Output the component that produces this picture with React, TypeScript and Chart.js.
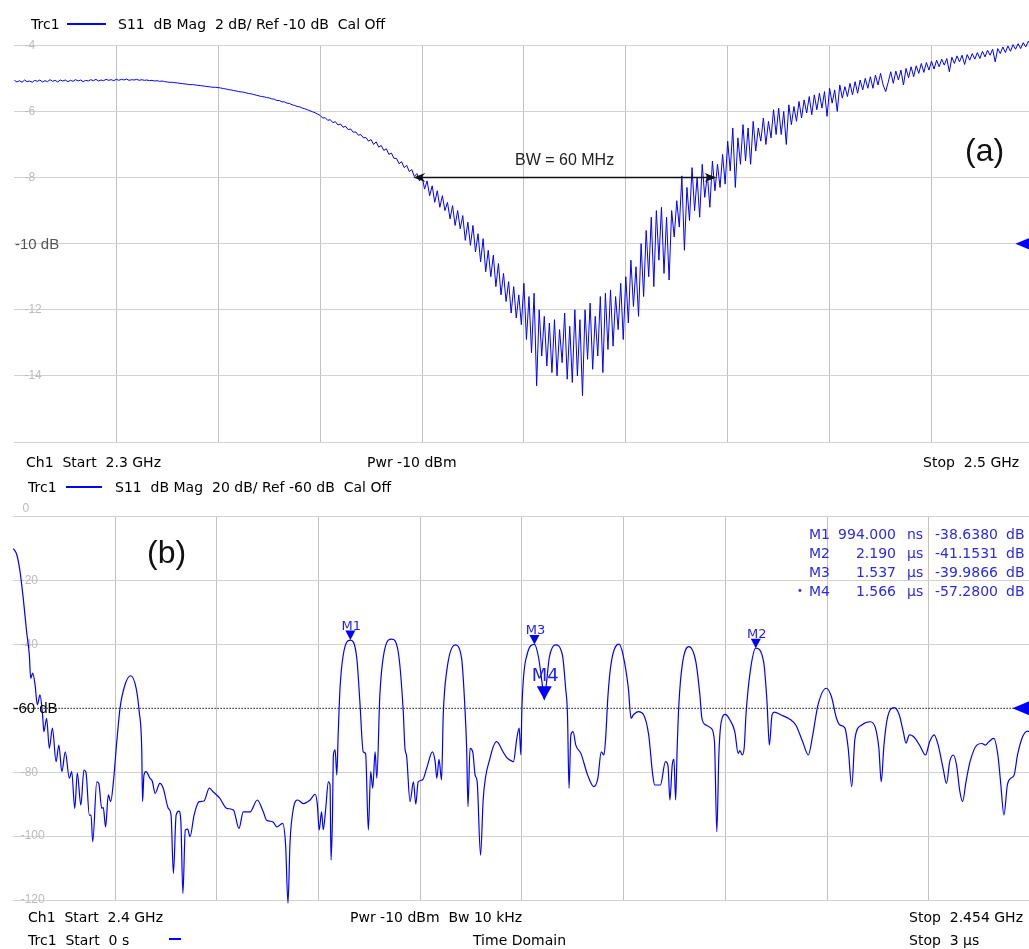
import React, { useEffect, useRef } from "react";
import { Chart, registerables } from "chart.js";
Chart.register(...registerables);

const DV = '"DejaVu Sans", Verdana, sans-serif';
const AR = '"Liberation Sans", Arial, sans-serif';

// ---------- panel (a): S11 magnitude sweep 2.3 - 2.5 GHz ----------
const topStartGHz = 2.3;
const topStepGHz = 0.0005;
const topS11dB = [
  -5.06,-5.11,-5.07,-5.12,-5.05,-5.10,-5.08,-5.12,-5.06,-5.09,-5.05,-5.11,-5.07,-5.10,-5.04,-5.09,-5.06,-5.11,-5.05,-5.08,
  -5.05,-5.10,-5.06,-5.09,-5.04,-5.08,-5.05,-5.10,-5.06,-5.08,-5.04,-5.07,-5.03,-5.08,-5.05,-5.07,-5.03,-5.06,-5.04,-5.07,
  -5.03,-5.06,-5.03,-5.05,-5.02,-5.06,-5.04,-5.05,-5.03,-5.06,-5.04,-5.06,-5.05,-5.07,-5.06,-5.08,-5.07,-5.09,-5.08,-5.10,
  -5.11,-5.12,-5.12,-5.13,-5.14,-5.15,-5.16,-5.17,-5.18,-5.19,-5.19,-5.20,-5.21,-5.22,-5.23,-5.24,-5.25,-5.26,-5.27,-5.27,
  -5.28,-5.29,-5.31,-5.32,-5.34,-5.35,-5.37,-5.38,-5.40,-5.41,-5.42,-5.44,-5.46,-5.47,-5.49,-5.51,-5.53,-5.55,-5.56,-5.58,
  -5.59,-5.62,-5.63,-5.67,-5.67,-5.71,-5.71,-5.75,-5.76,-5.80,-5.82,-5.85,-5.86,-5.90,-5.92,-5.95,-5.98,-6.01,-6.04,-6.08,
  -6.12,-6.20,-6.19,-6.27,-6.25,-6.34,-6.31,-6.41,-6.38,-6.48,-6.45,-6.55,-6.53,-6.63,-6.62,-6.72,-6.70,-6.80,-6.79,-6.90,
  -6.85,-7.00,-6.92,-7.08,-7.03,-7.18,-7.13,-7.30,-7.26,-7.42,-7.42,-7.58,-7.52,-7.70,-7.63,-7.82,-7.76,-7.97,-7.88,-8.10,
  -7.95,-8.35,-8.10,-8.55,-8.25,-8.75,-8.40,-8.90,-8.55,-9.00,-8.75,-9.25,-8.85,-9.45,-9.00,-9.55,-9.15,-9.90,-9.35,-10.05,
  -9.45,-10.25,-9.70,-10.55,-9.85,-10.85,-10.20,-11.00,-10.35,-11.30,-10.60,-11.55,-10.90,-11.75,-11.15,-12.10,-11.30,-12.25,-11.55,-12.45,
  -11.20,-12.90,-11.60,-13.30,-11.50,-14.30,-12.00,-13.40,-12.20,-13.70,-12.40,-13.90,-12.30,-14.00,-12.60,-13.60,-12.10,-14.10,-12.50,-14.20,
  -12.00,-14.00,-12.30,-14.60,-12.00,-13.50,-11.80,-13.80,-12.20,-13.40,-11.60,-13.90,-11.50,-13.20,-11.40,-13.10,-11.60,-12.60,-11.20,-12.90,
  -11.00,-12.40,-10.50,-11.90,-10.70,-12.20,-10.00,-11.60,-9.60,-11.00,-9.20,-11.30,-9.00,-10.50,-8.90,-10.90,-9.20,-11.10,-9.00,-9.80,
  -8.70,-9.50,-7.95,-10.20,-8.30,-9.30,-7.70,-9.00,-8.00,-9.20,-7.60,-8.60,-7.90,-8.90,-7.50,-8.40,-7.60,-8.30,-7.30,-8.20,
  -6.90,-7.80,-6.50,-8.30,-6.80,-7.60,-6.40,-7.50,-6.50,-7.60,-6.30,-7.20,-6.50,-6.90,-6.20,-7.00,-6.30,-6.80,-5.95,-6.70,
  -5.90,-6.70,-6.00,-7.00,-5.80,-6.40,-5.85,-6.30,-5.70,-6.20,-5.65,-6.05,-5.55,-6.10,-5.50,-5.95,-5.45,-5.90,-5.40,-6.15,
  -5.30,-5.75,-5.35,-6.00,-5.20,-5.60,-5.25,-5.55,-5.15,-5.50,-5.10,-5.45,-5.05,-5.35,-5.00,-5.30,-4.95,-5.30,-4.90,-5.20,
  -4.85,-5.20,-5.40,-5.12,-4.80,-5.15,-4.78,-5.05,-4.75,-5.20,-4.70,-4.98,-4.65,-4.95,-4.62,-4.85,-4.55,-4.82,-4.52,-4.75,
  -4.48,-4.72,-4.45,-4.65,-4.42,-4.60,-4.40,-4.80,-4.36,-4.55,-4.32,-4.50,-4.30,-4.58,-4.28,-4.45,-4.25,-4.42,-4.22,-4.40,
  -4.18,-4.35,-4.15,-4.30,-4.12,-4.50,-4.10,-4.25,-4.05,-4.22,-4.02,-4.18,-3.98,-4.12,-3.95,-4.10,-3.92,-4.05,-3.88,-4.00,
  -3.85,
];
const topXGridGHz = [2.30, 2.32, 2.34, 2.36, 2.38, 2.40, 2.42, 2.44, 2.46, 2.48, 2.50];
const topYTicksDb = [-4, -6, -8, -10, -12, -14, -16];
const topRefDb = -10;
const bwStartGHz = 2.3783;
const bwStopGHz = 2.4378;
const bwLevelDb = -8;

// ---------- panel (b): time domain 0 - 3 us ----------
const botTimeUs = [
  0.000,0.010,0.0195,0.029,0.039,0.047,0.051,0.057,0.064,0.0705,
  0.0785,0.086,0.090,0.098,0.106,0.115,0.126,0.134,0.143,0.153,
  0.165,0.172,0.181,0.1885,0.199,0.208,0.214,0.224,0.229,0.234,
  0.246,0.252,0.2605,0.265,0.272,0.280,0.287,0.295,0.305,0.3145,
  0.329,0.346,0.362,0.371,0.3785,0.381,0.385,0.391,0.403,0.410,
  0.418,0.432,0.442,0.457,0.465,0.472,0.480,0.4885,0.494,0.500,
  0.507,0.514,0.521,0.533,0.548,0.562,0.578,0.590,0.609,0.629,
  0.649,0.6655,0.678,0.698,0.7195,0.737,0.747,0.765,0.777,0.794,
  0.803,0.810,0.816,0.826,0.839,0.855,0.875,0.890,0.8965,0.902,
  0.909,0.914,0.921,0.929,0.934,0.937,0.941,0.944,0.949,0.954,
  0.958,0.9635,0.973,0.994,1.013,1.022,1.032,1.039,1.047,1.054,
  1.060,1.067,1.072,1.081,1.096,1.116,1.135,1.150,1.155,1.160,
  1.170,1.180,1.187,1.194,1.207,1.219,1.236,1.244,1.249,1.2555,
  1.263,1.268,1.278,1.303,1.322,1.332,1.337,1.341,1.347,1.355,
  1.362,1.368,1.378,1.386,1.406,1.4255,1.444,1.456,1.470,1.475,
  1.485,1.492,1.497,1.500,1.515,1.537,1.549,1.5595,1.566,1.5725,
  1.581,1.599,1.6195,1.629,1.6345,1.639,1.6445,1.651,1.659,1.674,
  1.694,1.712,1.724,1.734,1.742,1.747,1.754,1.764,1.7865,1.7985,
  1.814,1.822,1.829,1.844,1.859,1.874,1.886,1.892,1.9085,1.9235,
  1.931,1.9365,1.9435,1.9485,1.9535,1.958,1.963,1.973,1.993,2.013,
  2.025,2.031,2.043,2.058,2.068,2.075,2.081,2.088,2.100,2.113,
  2.128,2.138,2.143,2.150,2.156,2.161,2.1735,2.190,2.213,2.223,
  2.230,2.238,2.245,2.263,2.293,2.308,2.328,2.345,2.358,2.3735,
  2.398,2.413,2.428,2.438,2.453,2.4625,2.473,2.4825,2.5025,2.528,
  2.543,2.553,2.560,2.568,2.578,2.598,2.613,2.625,2.633,2.643,
  2.655,2.673,2.6905,2.703,2.716,2.728,2.7425,2.7525,2.762,2.7725,
  2.782,2.792,2.800,2.810,2.822,2.842,2.857,2.867,2.877,2.892,
  2.904,2.912,2.922,2.932,2.942,2.952,2.962,2.977,2.992,3.000,
];
const botS11dB = [
  -10,-11.9,-17.1,-25.5,-36,-43.3,-50.6,-49,-52.7,-58.9,
  -55.8,-62,-67.3,-63.1,-72.5,-66.2,-76.7,-71.5,-79.8,-73.6,
  -81.9,-79.8,-91.3,-80.3,-90.3,-79.3,-80,-93.4,-93.4,-101.8,
  -83,-83.5,-91.3,-91,-97.1,-87.1,-89.2,-83,-70.4,-60,
  -52.7,-49.8,-53.7,-61,-72.5,-89.2,-81,-79.8,-81.9,-82.9,
  -86.6,-83.5,-85,-91.3,-93.4,-111.7,-93.4,-92.2,-95.5,-118,
  -98.1,-97.8,-100.2,-93.4,-89.2,-89,-85,-86.2,-88.2,-91.3,
  -91.8,-97.6,-92.4,-92.4,-88.7,-92.4,-95,-95.5,-97.1,-96,
  -102.8,-121,-102,-91.3,-88.7,-89.8,-88.7,-86.9,-90,-98.1,
  -92.4,-98,-91.8,-83,-84,-107.5,-95,-74.6,-73,-80.9,
  -68.3,-53.7,-43.3,-38.638,-44.3,-57.9,-73.6,-74.2,-98.1,-79.8,
  -85,-73.6,-81.9,-55.8,-41.2,-38.3,-42.2,-61,-72.5,-75,
  -89.2,-83,-90,-83,-82.4,-78.8,-73.6,-76.6,-81.9,-76,
  -82.4,-62,-48.5,-40.1,-44.3,-60,-72.5,-90.8,-72.5,-73.6,
  -80.9,-82.9,-106,-88.2,-75.6,-70.4,-73.5,-75.5,-76.5,-76.7,
  -69.4,-66.2,-74.6,-60,-43.3,-39.9866,-44,-52,-57.28,-52,
  -44,-40.1,-43.3,-53.7,-62,-85,-68.3,-67.3,-71.5,-74.1,
  -80.9,-84.5,-81.9,-73.6,-74.6,-69.4,-55.8,-45.4,-39.9,-43.3,
  -53.7,-63.1,-62,-61,-62,-68.3,-80.9,-84,-84,-76.7,
  -78,-88.7,-77.7,-76,-88.7,-72.5,-58.9,-46.4,-40.7,-45.4,
  -55.8,-63.1,-65.2,-66.2,-70.4,-98.6,-74.6,-64.2,-61.9,-63.5,
  -67.3,-74.1,-73.2,-74.6,-72,-62,-48.5,-41.1531,-45.4,-57.9,
  -71.5,-62,-61.2,-62,-63.6,-65.2,-70.4,-74.6,-68.3,-58.9,
  -53.7,-56.3,-63.1,-65.2,-66.2,-72.5,-84.5,-69.4,-65.2,-64.2,
  -66.2,-72.5,-83,-71.5,-63.1,-59.8,-62,-67.3,-70.9,-68.3,
  -68.8,-71.5,-74.6,-70.4,-68.3,-71.5,-78.8,-83.5,-76.7,-74.6,
  -77.7,-86.1,-89.2,-83,-76.7,-71.5,-71,-71.5,-70.5,-69.4,
  -74.6,-83,-93.4,-84,-81.9,-80.9,-74.6,-68.9,-67.1,-67.5,
];
const botXGridUs = [0, 0.3, 0.6, 0.9, 1.2, 1.5, 1.8, 2.1, 2.4, 2.7, 3.0];
const botYTicksDb = [0, -20, -40, -60, -80, -100, -120];
const botRefDb = -60;
const markerNames = ["M1", "M2", "M3", "M4"];
const markerTimeUs = [0.994, 2.19, 1.537, 1.566];
const markerDb = [-38.638, -41.1531, -39.9866, -57.28];
const activeMarker = "M4";

const TRANSPARENT = "rgba(0,0,0,0)";
const LABEL_GRAY = "#bcbcbc";

const topOverlay = {
  id: "topOverlay",
  afterDatasetsDraw(chart: any) {
    const { ctx, chartArea: ca, scales } = chart;
    const x = scales.x, y = scales.y;
    const ya = y.getPixelForValue(bwLevelDb);
    const xa = x.getPixelForValue(bwStartGHz);
    const xb = x.getPixelForValue(bwStopGHz);
    ctx.save();
    ctx.strokeStyle = "#111";
    ctx.fillStyle = "#111";
    ctx.lineWidth = 1.5;
    ctx.beginPath();
    ctx.moveTo(xa + 4, ya);
    ctx.lineTo(xb - 4, ya);
    ctx.stroke();
    const head = (tx: number, dir: number) => {
      ctx.beginPath();
      ctx.moveTo(tx, ya);
      ctx.lineTo(tx + dir * 12, ya - 4.5);
      ctx.lineTo(tx + dir * 8, ya);
      ctx.lineTo(tx + dir * 12, ya + 4.5);
      ctx.closePath();
      ctx.fill();
    };
    head(xa, 1);
    head(xb, -1);
    const yr = y.getPixelForValue(topRefDb);
    ctx.fillStyle = "#0000ff";
    ctx.beginPath();
    ctx.moveTo(ca.right - 18, yr);
    ctx.lineTo(ca.right, yr - 7.5);
    ctx.lineTo(ca.right, yr + 7.5);
    ctx.closePath();
    ctx.fill();
    ctx.font = "15px " + AR;
    ctx.fillStyle = "#555";
    ctx.textBaseline = "middle";
    ctx.textAlign = "left";
    ctx.fillText(String(topRefDb) + " dB", ca.left + 0.6, yr + 1);
    ctx.restore();
  },
};

const botOverlay = {
  id: "botOverlay",
  beforeDatasetsDraw(chart: any) {
    const { ctx, chartArea: ca, scales } = chart;
    const yr = scales.y.getPixelForValue(botRefDb);
    ctx.save();
    ctx.strokeStyle = "#3c3c3c";
    ctx.lineWidth = 1.3;
    ctx.setLineDash([1.5, 1.5]);
    ctx.beginPath();
    ctx.moveTo(ca.left, yr);
    ctx.lineTo(ca.right, yr);
    ctx.stroke();
    ctx.restore();
  },
  afterDatasetsDraw(chart: any) {
    const { ctx, chartArea: ca, scales } = chart;
    const x = scales.x, y = scales.y;
    ctx.save();
    markerNames.forEach((name, i) => {
      const px = x.getPixelForValue(markerTimeUs[i]);
      const py = y.getPixelForValue(markerDb[i]);
      const big = name === activeMarker;
      const w = big ? 15 : 10;
      const h = big ? 13.5 : 9.5;
      ctx.fillStyle = "#0000ff";
      ctx.beginPath();
      ctx.moveTo(px - w / 2, py - h);
      ctx.lineTo(px + w / 2, py - h);
      ctx.lineTo(px, py);
      ctx.closePath();
      ctx.fill();
      ctx.fillStyle = "#1e1ef0";
      ctx.font = (big ? "18px " : "13px ") + DV;
      ctx.textAlign = "center";
      ctx.textBaseline = "alphabetic";
      ctx.fillText(name, px + 1, py - h - (big ? 5 : 1));
    });
    const yr = y.getPixelForValue(botRefDb);
    ctx.fillStyle = "#0000ff";
    ctx.beginPath();
    ctx.moveTo(ca.right - 18, yr);
    ctx.lineTo(ca.right, yr - 7.5);
    ctx.lineTo(ca.right, yr + 7.5);
    ctx.closePath();
    ctx.fill();
    ctx.font = "15px " + AR;
    ctx.fillStyle = "#000";
    ctx.textAlign = "left";
    ctx.textBaseline = "middle";
    ctx.fillText(String(botRefDb) + " dB", ca.left, yr + 1);
    ctx.font = "12px " + AR;
    ctx.fillStyle = LABEL_GRAY;
    ctx.fillText(String(botYTicksDb[0]), ca.left + 9, y.getPixelForValue(botYTicksDb[0]) - 8);
    ctx.restore();
  },
};

function makeConfig(opts: any) {
  return {
    type: "line",
    data: {
      datasets: [
        {
          data: opts.points,
          borderColor: "#0000ff",
          borderWidth: opts.lineWidth,
          pointRadius: 0,
          tension: 0,
          cubicInterpolationMode: opts.monotone ? "monotone" : "default",
          clip: false,
        },
      ],
    },
    options: {
      responsive: false,
      animation: false,
      devicePixelRatio: 1,
      events: [],
      layout: { padding: opts.padding },
      plugins: { legend: { display: false }, tooltip: { enabled: false }, title: { display: false } },
      scales: {
        x: {
          type: "linear",
          min: opts.xGrid[0],
          max: opts.xGrid[opts.xGrid.length - 1],
          afterBuildTicks: (s: any) => { s.ticks = opts.xGrid.map((v: number) => ({ value: v })); },
          afterFit: (s: any) => { s.height = 0; },
          ticks: { display: false },
          grid: {
            color: (c: any) => (c.index === 0 ? TRANSPARENT : "#c2c2c2"),
            drawTicks: false,
            lineWidth: 1,
          },
          border: { display: false },
        },
        y: {
          type: "linear",
          min: opts.yTicks[opts.yTicks.length - 1],
          max: opts.yTicks[0],
          afterBuildTicks: (s: any) => { s.ticks = opts.yTicks.map((v: number) => ({ value: v })); },
          afterFit: (s: any) => { s.width = 0; },
          ticks: {
            mirror: true,
            padding: opts.labelPad,
            color: LABEL_GRAY,
            autoSkip: false,
            font: { family: AR, size: 12 },
            callback: (v: any) => (opts.hideLabels.includes(v) ? "" : String(v)),
          },
          grid: {
            color: (c: any) => (opts.hideGrid.includes(c.tick.value) ? TRANSPARENT : "#d2d2d2"),
            drawTicks: false,
            lineWidth: 1,
          },
          border: { display: false },
        },
      },
    },
    plugins: [opts.overlay],
  };
}

type TP = { x?: number; r?: number; y: number; s?: number; c?: string; f?: string; children: any };
function T({ x, r, y, s = 14, c = "#000", f = DV, children }: TP) {
  const st: any = {
    position: "absolute",
    top: y,
    transform: "translateY(-50%)",
    fontSize: s,
    color: c,
    fontFamily: f,
    lineHeight: 1,
    whiteSpace: "pre",
  };
  if (r !== undefined) { st.right = 1029 - r; st.textAlign = "right"; } else st.left = x;
  return <div style={st}>{children}</div>;
}
function Dash({ x1, x2, y }: { x1: number; x2: number; y: number }) {
  return <div style={{ position: "absolute", left: x1, top: y - 1, width: x2 - x1, height: 2, background: "#0000ff" }} />;
}

const tableColor = "#2a2ae8";
const tableRowsY = [534, 553, 572, 591];

export default function App() {
  const topRef = useRef<HTMLCanvasElement>(null);
  const botRef = useRef<HTMLCanvasElement>(null);
  useEffect(() => {
    const a = new Chart(
      topRef.current as HTMLCanvasElement,
      makeConfig({
        points: topS11dB.map((v, j) => ({ x: topStartGHz + j * topStepGHz, y: v })),
        lineWidth: 1,
        monotone: false,
        padding: { left: 14.4, right: 6.6, top: 45.3, bottom: 28 },
        xGrid: topXGridGHz,
        yTicks: topYTicksDb,
        labelPad: 10,
        hideLabels: [topRefDb, topYTicksDb[topYTicksDb.length - 1]],
        hideGrid: [],
        overlay: topOverlay,
      }) as any
    );
    const b = new Chart(
      botRef.current as HTMLCanvasElement,
      makeConfig({
        points: botTimeUs.map((t, i) => ({ x: t, y: botS11dB[i] })),
        lineWidth: 1.2,
        monotone: true,
        padding: { left: 13.4, right: 9.6, top: 56.7, bottom: 40 },
        xGrid: botXGridUs,
        yTicks: botYTicksDb,
        labelPad: 7.3,
        hideLabels: [botRefDb, botYTicksDb[0]],
        hideGrid: [botRefDb],
        overlay: botOverlay,
      }) as any
    );
    return () => { a.destroy(); b.destroy(); };
  }, []);

  const fmtTime = (t: number) => (t < 1 ? [(t * 1000).toFixed(3), "ns"] : [t.toFixed(3), "µs"]);

  return (
    <div style={{ position: "fixed", left: 0, top: 0, width: 1029, height: 949, overflow: "hidden", background: "#fff" }}>
      <canvas ref={topRef} width={1040} height={470} style={{ position: "absolute", left: 0, top: 0, width: 1040, height: 470 }} />
      <canvas ref={botRef} width={1040} height={480} style={{ position: "absolute", left: 0, top: 460, width: 1040, height: 480 }} />

      {/* panel (a) header/footer */}
      <T x={31} y={24}>Trc1</T>
      <Dash x1={67} x2={106} y={23.5} />
      <T x={118} y={24}>{"S11  dB Mag  2 dB/ Ref -10 dB  Cal Off"}</T>
      <T x={26} y={462}>{"Ch1  Start  2.3 GHz"}</T>
      <T x={367} y={462}>{"Pwr -10 dBm"}</T>
      <T x={923} y={462}>{"Stop  2.5 GHz"}</T>
      <T x={965} y={150} s={32} f={AR} c="#111">(a)</T>
      <T x={515} y={160} s={16} f={AR} c="#222">BW = 60 MHz</T>

      {/* panel (b) header/footer */}
      <T x={28} y={487}>Trc1</T>
      <Dash x1={66} x2={102} y={486.5} />
      <T x={115} y={487}>{"S11  dB Mag  20 dB/ Ref -60 dB  Cal Off"}</T>
      <T x={147} y={552} s={32} f={AR} c="#111">(b)</T>
      <T x={28} y={917}>{"Ch1  Start  2.4 GHz"}</T>
      <T x={350} y={917}>{"Pwr -10 dBm  Bw 10 kHz"}</T>
      <T x={909} y={917}>{"Stop  2.454 GHz"}</T>
      <T x={28} y={940}>{"Trc1  Start  0 s"}</T>
      <Dash x1={169} x2={181} y={939} />
      <T x={473} y={940}>{"Time Domain"}</T>
      <T x={909} y={940}>{"Stop  3 µs"}</T>

      {/* marker table */}
      {markerNames.map((n, i) => {
        const [tv, tu] = fmtTime(markerTimeUs[i]);
        const y = tableRowsY[i];
        return (
          <React.Fragment key={n}>
            {n === activeMarker ? <T x={797} y={y} s={10} c={tableColor}>•</T> : null}
            <T x={809} y={y} c={tableColor}>{n}</T>
            <T r={896} y={y} c={tableColor}>{tv}</T>
            <T x={907} y={y} c={tableColor}>{tu}</T>
            <T r={998} y={y} c={tableColor}>{markerDb[i].toFixed(4)}</T>
            <T x={1006} y={y} c={tableColor}>dB</T>
          </React.Fragment>
        );
      })}
    </div>
  );
}
